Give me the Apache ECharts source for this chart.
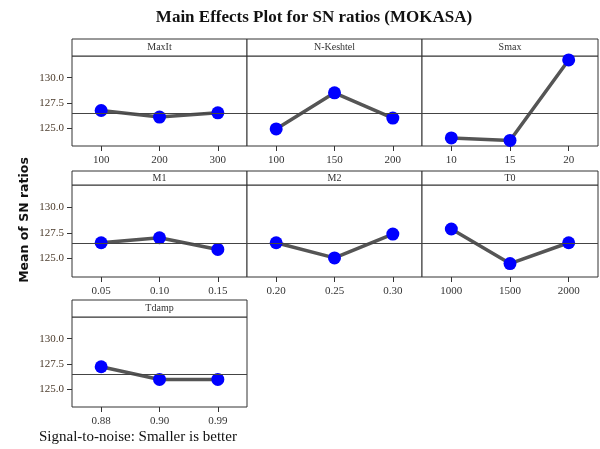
<!DOCTYPE html>
<html><head><meta charset="utf-8">
<script src="https://cdn.jsdelivr.net/npm/echarts@6/dist/echarts.min.js"></script>
<style>html,body{margin:0;padding:0;background:#fff}#c{width:600px;height:449px}</style>
</head><body><div id="c"></div>
<script>
// ---- data ----
const factorNames = ['MaxIt', 'N-Keshtel', 'Smax', 'M1', 'M2', 'T0', 'Tdamp'];
const levelsMaxIt = ['100', '200', '300'];
const valuesMaxIt = [126.73, 126.08, 126.50];
const levelsNKeshtel = ['100', '150', '200'];
const valuesNKeshtel = [124.90, 128.49, 125.98];
const levelsSmax = ['10', '15', '20'];
const valuesSmax = [124.00, 123.75, 131.76];
const levelsM1 = ['0.05', '0.10', '0.15'];
const valuesM1 = [126.53, 127.02, 125.88];
const levelsM2 = ['0.20', '0.25', '0.30'];
const valuesM2 = [126.53, 125.06, 127.38];
const levelsT0 = ['1000', '1500', '2000'];
const valuesT0 = [127.87, 124.51, 126.53];
const levelsTdamp = ['0.88', '0.90', '0.99'];
const valuesTdamp = [127.20, 125.94, 125.94];
const grandMean = 126.45;
const yTicks = [125.0, 127.5, 130.0];

const panelLevels = [levelsMaxIt, levelsNKeshtel, levelsSmax, levelsM1, levelsM2, levelsT0, levelsTdamp];
const panelValues = [valuesMaxIt, valuesNKeshtel, valuesSmax, valuesM1, valuesM2, valuesT0, valuesTdamp];

// ---- layout ----
const colLeft = [72, 247, 422];
const colWidth = [175, 175, 176];
const headerTop = [39, 171, 300];
const plotTop = [56, 185, 317];
const plotHeight = [90, 92, 90];
const yMin = 123.2, yMax = 132.15;
const serif = '"Liberation Serif", "DejaVu Serif", serif';

const grids = [], xAxes = [], yAxes = [], series = [], graphics = [];
factorNames.forEach((name, i) => {
  const r = Math.floor(i / 3), c = i % 3;
  grids.push({
    left: colLeft[c], top: plotTop[r], width: colWidth[c], height: plotHeight[r],
    show: true, borderColor: '#333', borderWidth: 1, backgroundColor: '#fff'
  });
  xAxes.push({
    type: 'category', gridIndex: i, data: panelLevels[i], boundaryGap: true,
    axisLine: { show: false },
    axisTick: { show: true, alignWithLabel: true, length: 5, lineStyle: { color: '#333' } },
    axisLabel: { fontFamily: serif, fontSize: 11, color: '#333', margin: 9 }
  });
  yAxes.push({
    type: 'value', gridIndex: i, min: yMin, max: yMax, show: c === 0,
    splitLine: { show: false },
    axisLine: { show: false },
    axisTick: { show: true, length: 5, customValues: yTicks, lineStyle: { color: '#333' } },
    axisLabel: { fontFamily: serif, fontSize: 11, color: '#4a3a2a', margin: 8,
      customValues: yTicks, formatter: v => v.toFixed(1) }
  });
  series.push({
    type: 'line', xAxisIndex: i, yAxisIndex: i, data: panelValues[i],
    symbol: 'circle', symbolSize: 13,
    itemStyle: { color: '#0000ff' },
    lineStyle: { color: '#555', width: 3.5 },
    markLine: {
      silent: true, symbol: 'none', label: { show: false },
      lineStyle: { color: '#444', width: 1, type: 'solid' },
      data: [{ yAxis: grandMean }]
    },
    z: 3
  });
  graphics.push({
    type: 'rect',
    shape: { x: colLeft[c], y: headerTop[r], width: colWidth[c], height: plotTop[r] - headerTop[r] },
    style: { fill: '#fff', stroke: '#333', lineWidth: 1 }
  });
  graphics.push({
    type: 'text',
    x: colLeft[c] + colWidth[c] / 2, y: (headerTop[r] + plotTop[r]) / 2,
    style: { text: name, fontFamily: serif, fontSize: 10, fill: '#333', align: 'center', verticalAlign: 'middle' }
  });
});

graphics.push({
  type: 'text', x: 25, y: 220, rotation: Math.PI / 2,
  style: { text: 'Mean of SN ratios', fontFamily: '"DejaVu Sans", sans-serif', fontWeight: 'bold',
    fontSize: 12.5, fill: '#111', align: 'center', verticalAlign: 'middle' }
});
graphics.push({
  type: 'text', x: 39, y: 437,
  style: { text: 'Signal-to-noise: Smaller is better', fontFamily: serif,
    fontSize: 15, fill: '#111', align: 'left', verticalAlign: 'middle' }
});

const chart = echarts.init(document.getElementById('c'), null, { renderer: 'canvas' });
chart.setOption({
  animation: false,
  backgroundColor: '#fff',
  title: {
    text: 'Main Effects Plot for SN ratios (MOKASA)', left: 309, top: 4, textAlign: 'center',
    textStyle: { fontFamily: serif, fontWeight: 'bold', fontSize: 17, color: '#111' }
  },
  grid: grids, xAxis: xAxes, yAxis: yAxes, series: series,
  graphic: graphics
});
</script></body></html>
